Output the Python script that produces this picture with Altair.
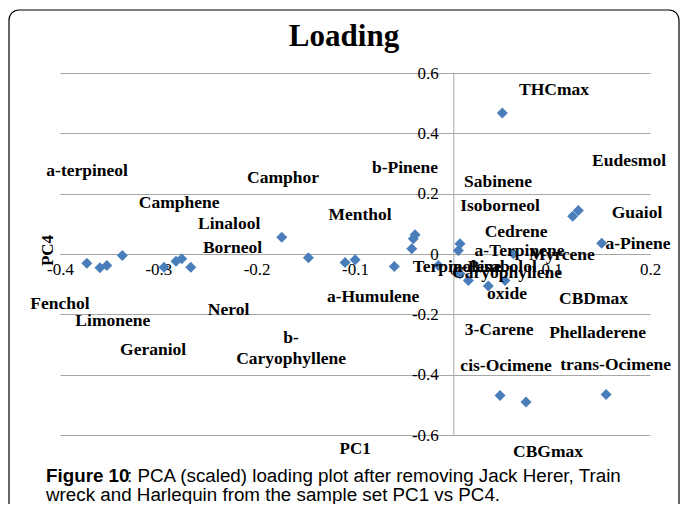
import altair as alt
import pandas as pd

# ---------------- data ----------------
names = ["Fenchol", "Limonene", "Geraniol", "a-terpineol", "Nerol", "Camphene", "Linalool", "Borneol",
         "Camphor", "b-\nCaryophyllene", "a-Humulene", "Menthol", "Terpinolene", "b-Pinene", "Sabinene",
         "Isoborneol", "a-Bisabolol", "Cedrene", "a-Terpinene", "THCmax", "Caryophyllene\noxide", "3-Carene",
         "CBDmax", "Phelladerene", "Myrcene", "Eudesmol", "Guaiol", "a-Pinene", "cis-Ocimene", "CBGmax",
         "trans-Ocimene"]
pc1 = [-0.3727, -0.3594, -0.3524, -0.3366, -0.2942, -0.2820, -0.2762, -0.2670,
       -0.1745, -0.1474, -0.1101, -0.0999, -0.0600, -0.0389, -0.0407,
       -0.0423, -0.0153, 0.0068, 0.0051, 0.0498, 0.0068, 0.0153,
       0.0356, 0.0526, 0.0610, 0.1214, 0.1271, 0.1509, 0.0475, 0.0739,
       0.1553]
pc4 = [-0.0305, -0.0457, -0.0381, -0.0050, -0.0437, -0.0238, -0.0159, -0.0437,
       0.0556, -0.0126, -0.0282, -0.0192, -0.0414, 0.0636, 0.0503,
       0.0172, -0.0381, 0.0338, 0.0116, 0.4677, -0.0656, -0.0878,
       -0.1060, -0.0878, 0.0007, 0.1252, 0.1441, 0.0358, -0.4687, -0.4909,
       -0.4654]
label_pc1 = [-0.4000, -0.3463, -0.3053, -0.3724, -0.2286, -0.2789, -0.2280, -0.2245,
             -0.1732, -0.1650, -0.0816, -0.0949, 0.0038, -0.0491, 0.0454,
             0.0475, 0.0424, 0.0638, 0.0673, 0.1024, 0.0546, 0.0465,
             0.1426, 0.1467, 0.1105, 0.1787, 0.1868, 0.1878, 0.0536, 0.0963,
             0.1650]
label_pc4 = [-0.1673, -0.2226, -0.3196, 0.2766, -0.1848, 0.1683, 0.1000, 0.0205,
             0.2517, -0.2782, -0.1431, 0.1308, -0.0447, 0.2855, 0.2378,
             0.1583, -0.0447, 0.0722, 0.0116, 0.5439, -0.0646, -0.2534,
             -0.1507, -0.2623, -0.0017, 0.3097, 0.1351, 0.0315, -0.3726, -0.6565,
             -0.3693]
x_ticks = [-0.4, -0.3, -0.2, -0.1, 0.0, 0.1, 0.2]
y_ticks = [-0.6, -0.4, -0.2, 0.0, 0.2, 0.4, 0.6]
chart_title = "Loading"
x_title = "PC1"
y_title = "PC4"
caption_bold = "Figure 10"
caption_line1 = ": PCA (scaled) loading plot after removing Jack Herer, Train"
caption_line2 = "wreck and Harlequin from the sample set PC1 vs PC4."

df = pd.DataFrame({"name": names, "pc1": pc1, "pc4": pc4, "lx": label_pc1, "ly": label_pc4})

# ---------------- style ----------------
W, H = 590, 362
SERIF = "Liberation Serif"
SANS = "Liberation Sans"
GRAY = "#a6a6a6"
BLUE = "#4a7ebb"
LABEL_EXPR = "datum.value == 0 ? '0' : (datum.value < 0 ? '-' : '') + format(abs(datum.value), '.1f')"

x_off = -H * (0.6 / 1.2)          # put the x axis at PC4 = 0
y_off = -W * (0.4 / 0.6)          # put the y axis at PC1 = 0


def xenc(field):
    return alt.X(field, type="quantitative",
                 scale=alt.Scale(domain=[-0.4, 0.2], nice=False, zero=False),
                 axis=alt.Axis(values=x_ticks, offset=x_off, grid=False, ticks=False,
                               domainColor=GRAY, domainWidth=1,
                               labelFont=SERIF, labelFontSize=17, labelColor="black",
                               labelPadding=7, labelExpr=LABEL_EXPR, labelFlush=False,
                               labelOverlap=False,
                               title=x_title, titleFont=SERIF, titleFontSize=17,
                               titleFontWeight="bold", titleColor="black",
                               titleX=294.6, titleY=194.8, titleBaseline="middle",
                               titleAlign="center"))


def yenc(field):
    return alt.Y(field, type="quantitative",
                 scale=alt.Scale(domain=[-0.6, 0.6], nice=False, zero=False),
                 axis=alt.Axis(values=y_ticks, offset=y_off, grid=True, gridColor=GRAY,
                               gridWidth=1, ticks=False,
                               domainColor=GRAY, domainWidth=1,
                               labelFont=SERIF, labelFontSize=17, labelColor="black",
                               labelPadding=15, labelExpr=LABEL_EXPR, labelFlush=False,
                               labelOverlap=False,
                               title=y_title, titleFont=SERIF, titleFontSize=17,
                               titleFontWeight="bold", titleColor="black",
                               titleAngle=270, titleX=-406.3, titleY=177,
                               titleBaseline="middle", titleAlign="center"))


one = pd.DataFrame({"t": [0]})

border = alt.Chart(one).mark_rect(fillOpacity=0, stroke="black", strokeWidth=1.2,
                                  cornerRadius=10).encode(
    x=alt.value(-51), x2=alt.value(619), y=alt.value(-63), y2=alt.value(470))

points = alt.Chart(df).mark_point(shape="diamond", filled=True, size=121, color=BLUE,
                                  opacity=1).encode(x=xenc("pc1"), y=yenc("pc4"))

labels = alt.Chart(df).mark_text(font=SERIF, fontSize=17.5, fontWeight="bold", color="black",
                                 align="center", baseline="middle", lineBreak="\n",
                                 lineHeight=21).encode(
    x=xenc("lx"), y=yenc("ly"), text="name:N")

title = alt.Chart(pd.DataFrame({"t": [chart_title]})).mark_text(
    font=SERIF, fontSize=31, fontWeight="bold", color="black", align="center",
    baseline="alphabetic").encode(x=alt.value(284), y=alt.value(-27), text="t:N")

cap_b = alt.Chart(pd.DataFrame({"t": [caption_bold]})).mark_text(
    font=SANS, fontSize=18.8, fontWeight="bold", color="black", align="left",
    baseline="alphabetic").encode(x=alt.value(-14), y=alt.value(409), text="t:N")

cap_1 = alt.Chart(pd.DataFrame({"t": [caption_line1]})).mark_text(
    font=SANS, fontSize=18.8, color="black", align="left",
    baseline="alphabetic").encode(x=alt.value(67), y=alt.value(409), text="t:N")

cap_2 = alt.Chart(pd.DataFrame({"t": [caption_line2]})).mark_text(
    font=SANS, fontSize=18.8, color="black", align="left",
    baseline="alphabetic").encode(x=alt.value(-14), y=alt.value(428), text="t:N")

chart = alt.layer(border, points, labels, title, cap_b, cap_1, cap_2).properties(
    width=W, height=H,
    autosize=alt.AutoSizeParams(type="none"),
    padding={"left": 52, "top": 65, "right": 31, "bottom": 69},
    background="white",
).configure_view(stroke=None).configure_axis(
    labelFont=SERIF, titleFont=SERIF, labelFontSize=17
)

chart.save("out.html", embed_options={"renderer": "svg", "actions": False})
